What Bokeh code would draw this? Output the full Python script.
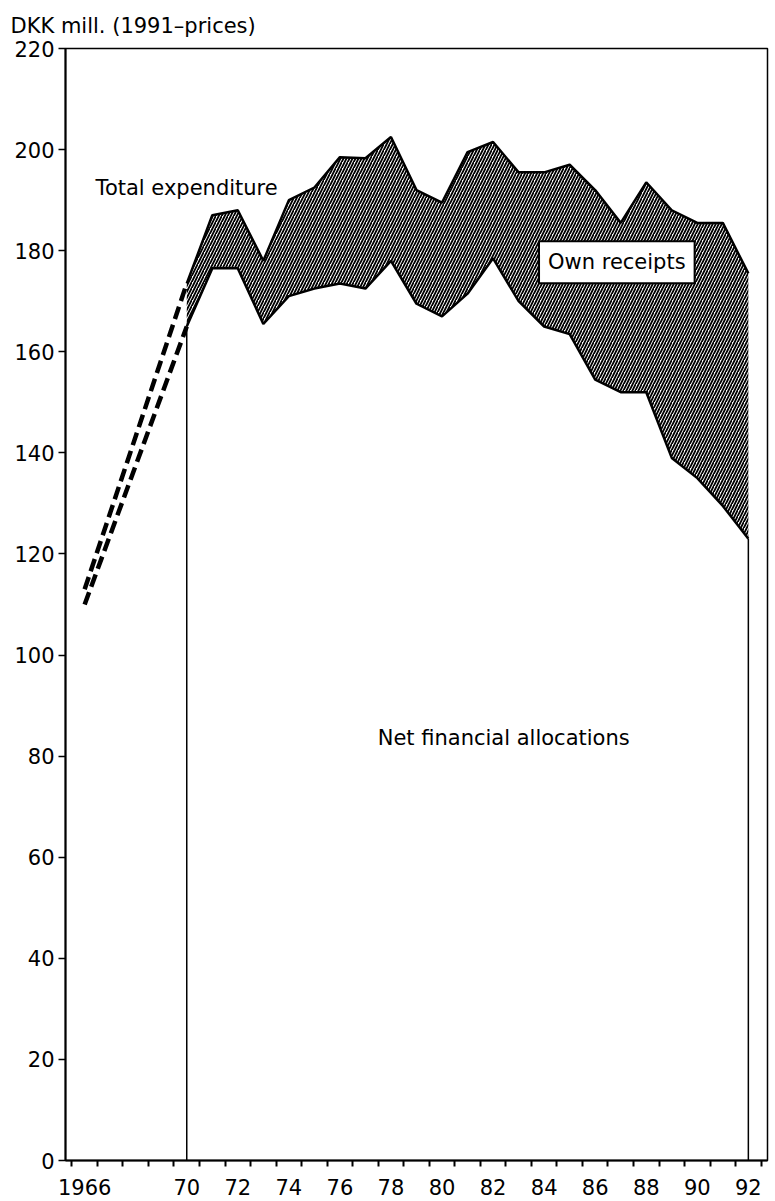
from bokeh.plotting import figure
from bokeh.models import Range1d, FixedTicker, Label
from bokeh.embed import file_html
from bokeh.resources import INLINE

# ---- data (DKK mill., 1991 prices) ----
years = list(range(1970, 1993))
total_expenditure = [173.5, 187, 188, 178, 190, 192.5, 198.5, 198.3, 202.5, 192, 189.5,
                     199.5, 201.5, 195.5, 195.5, 197, 192, 185.5, 193.5, 188, 185.5,
                     185.5, 175.5]
net_financial = [165, 176.5, 176.5, 165.5, 171, 172.5, 173.5, 172.5, 178, 169.5, 167,
                 171.5, 178.5, 170, 165, 163.5, 154.5, 152, 152, 139, 135, 129.5, 123]

# early years (dashed, only endpoints known)
early_years = [1966, 1970]
early_total = [113, total_expenditure[0]]
early_net = [110, net_financial[0]]

label_years = [1966, 1970, 1972, 1974, 1976, 1978, 1980, 1982, 1984, 1986, 1988, 1990, 1992]
label_text = ["1966", "70", "72", "74", "76", "78", "80", "82", "84", "86", "88", "90", "92"]
y_ticks = [0, 20, 40, 60, 80, 100, 120, 140, 160, 180, 200, 220]

FONT = "DejaVu Sans"

p = figure(width=775, height=1199, output_backend="svg", toolbar_location=None,
           x_range=Range1d(1965.25, 1992.75), y_range=Range1d(0, 220),
           min_border_left=65, min_border_right=8, min_border_top=47, min_border_bottom=39)

p.title.text = "DKK mill. (1991\u2013prices)"
p.title.text_font = FONT
p.title.text_font_size = "21px"
p.title.text_font_style = "normal"
p.title.text_color = "black"
p.title.align = "left"
p.title.offset = -55
p.title.standoff = 22

p.xgrid.visible = False
p.ygrid.visible = False
p.outline_line_color = "black"
p.outline_line_width = 1.5
p.background_fill_color = "white"

# hatched band (own receipts)
p.varea(x=years, y1=net_financial, y2=total_expenditure, fill_alpha=0,
        hatch_pattern="right_diagonal_line", hatch_color="black", hatch_scale=6,
        hatch_weight=1.8)
p.line(years, total_expenditure, line_color="black", line_width=2.5)
p.line(years, net_financial, line_color="black", line_width=2.5)

# vertical boundaries of net financial allocations
p.segment(x0=[years[0], years[-1]], y0=[0, 0], x1=[years[0], years[-1]],
          y1=[net_financial[0], net_financial[-1]], line_color="black", line_width=1.5)

# dashed early series
p.line(early_years, early_total, line_color="black", line_width=4.5, line_dash="13 6")
p.line(early_years, early_net, line_color="black", line_width=4.5, line_dash="13 6")

# axes
xt = FixedTicker(ticks=label_years, minor_ticks=[y + 0.5 for y in range(1965, 1993)])
p.xaxis.ticker = xt
p.xaxis.major_label_overrides = {yr: t for yr, t in zip(label_years, label_text)}
p.xaxis.major_tick_out = 0
p.xaxis.major_tick_in = 0
p.xaxis.minor_tick_out = 6
p.xaxis.minor_tick_in = 0
p.xaxis.minor_tick_line_color = "black"
p.xaxis.minor_tick_line_width = 2
p.xaxis.major_label_standoff = 12

p.yaxis.ticker = FixedTicker(ticks=y_ticks)
p.yaxis.major_tick_out = 7
p.yaxis.major_tick_in = 0
p.yaxis.minor_tick_out = 0
p.yaxis.minor_tick_in = 0
p.yaxis.major_label_standoff = 4

for ax in (p.xaxis, p.yaxis):
    ax.axis_line_color = "black"
    ax.axis_line_width = 2
    ax.major_tick_line_color = "black"
    ax.major_tick_line_width = 1.5
    ax.major_label_text_font = FONT
    ax.major_label_text_font_size = "21px"
    ax.major_label_text_color = "black"

# annotations
p.add_layout(Label(x=1966.43, y=192.5, text="Total expenditure", text_font=FONT,
                   text_font_size="21px", text_baseline="middle", text_align="left",
                   text_color="black"))
p.add_layout(Label(x=1977.48, y=83.6, text="Net financial allocations", text_font=FONT,
                   text_font_size="21px", text_baseline="middle", text_align="left",
                   text_color="black"))
p.add_layout(Label(x=1983.8, y=177.7, text="Own receipts", text_font=FONT,
                   text_font_size="21px", text_baseline="middle", text_align="left",
                   text_color="black", background_fill_color="white",
                   border_line_color="black", border_line_width=2, padding=9))

open("out.html", "w").write(file_html(p, INLINE))
